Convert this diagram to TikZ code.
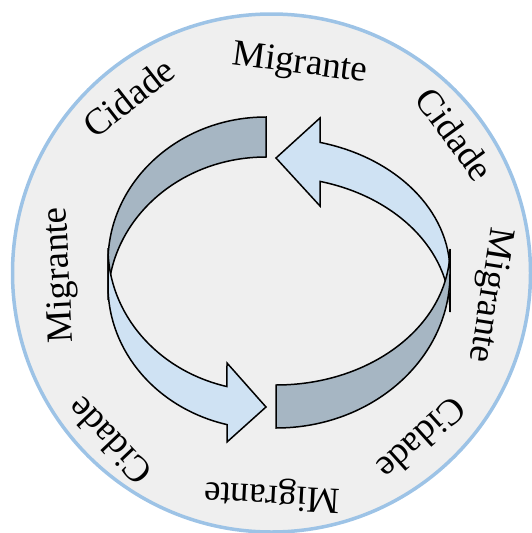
\documentclass[tikz,border=0pt]{standalone}
\usepackage{fontspec}
\setmainfont{Liberation Serif}
\definecolor{ringblue}{HTML}{9DC3E6}
\definecolor{discgray}{HTML}{EFEFEF}
\definecolor{backband}{HTML}{A6B6C3}
\definecolor{frontband}{HTML}{CFE2F3}
\tikzset{
  band/.style={draw=black, line width=1.5pt, line join=miter},
  word/.style={font=\fontsize{37}{42}\selectfont, inner sep=0pt},
}
\begin{document}
\begin{tikzpicture}[x=1pt,y=-1pt]
\useasboundingbox (0,0) rectangle (532,533);
\fill[discgray, draw=ringblue, line width=3.5pt] (271.5,273) circle[radius=259];
% back half of the ring
\draw[band, fill=backband] (266,117) arc[start angle=-90, end angle=-180, x radius=158, y radius=145]
  -- (108,300) arc[start angle=180, end angle=270, x radius=158, y radius=143] -- cycle;
\draw[band, fill=frontband] (320,142.4) arc[start angle=-75.35, end angle=0, x radius=174, y radius=134]
  -- (450,312) arc[start angle=0, end angle=-75.35, x radius=174, y radius=135]
  -- (320,206) -- (276,158) -- (320,118) -- cycle;
% front half
\draw[band, fill=frontband] (108,248) arc[start angle=180, end angle=104.3, x radius=158, y radius=143]
  -- (227,363) -- (266,407) -- (227,442)
  -- (227,424.6) arc[start angle=104.3, end angle=180, x radius=158, y radius=143] -- cycle;
\draw[band, fill=backband] (276,385) arc[start angle=90, end angle=0, x radius=174, y radius=136]
  -- (450,274) arc[start angle=0, end angle=90, x radius=174, y radius=154] -- cycle;
% words round the disc
\foreach \px/\py/\rot/\txt [count=\k] in {300/65/-7.5/Migrante, 455/134/-54/Cidade,
    489/295/-99/Migrante, 421.7/438.8/-138/Cidade, 272/494/-183/Migrante,
    109/441/-226.5/Cidade, 61/275/93/Migrante, 128.7/97.6/38/Cidade}
  \node[word, rotate=\rot] (lbl\k) at (\px,\py) {\txt};
\end{tikzpicture}
\end{document}
